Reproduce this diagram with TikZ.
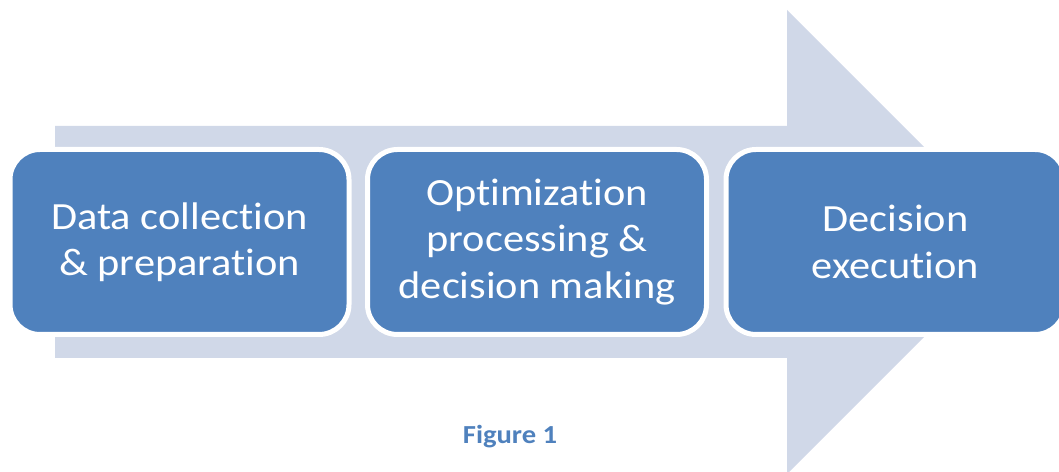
\documentclass[tikz,border=0pt]{standalone}
\usepackage{fontspec}
\setmainfont{Carlito}[FakeStretch=1.1, Ligatures={NoCommon,NoRare,NoDiscretionary}]
\definecolor{stageblue}{HTML}{4F81BD}
\definecolor{flowgrey}{HTML}{D0D8E8}
\begin{document}
\begin{tikzpicture}[x=1pt,y=1pt,
  stagebox/.style={draw=white, line width=5pt, fill=stageblue, rounded corners=30pt,
    minimum width=339pt, minimum height=185pt, inner sep=0pt, outer sep=0pt,
    text=white, align=center, font=\fontsize{38.5}{46.5}\selectfont}]
  \useasboundingbox (0,0) rectangle (1059,471);
  \clip (0,0) rectangle (1059,471);
  % broad process arrow behind the stages
  \fill[flowgrey] (55,345) -- (787,345) -- (787,461) -- (1019,229)
    -- (787,-3) -- (787,113) -- (55,113) -- cycle;
  % stages
  \node[stagebox] (collect) at (179.5,229) {Data collection\\\& preparation};
  \node[stagebox] (optim) at (537,229) {Optimization\\processing \&\\decision making};
  \node[stagebox] (exec) at (895.5,229) {Decision\\execution};
  % caption
  \node[text=stageblue, font=\fontsize{26}{30}\selectfont\bfseries] (caption) at (510,34) {Figure 1};
\end{tikzpicture}
\end{document}
